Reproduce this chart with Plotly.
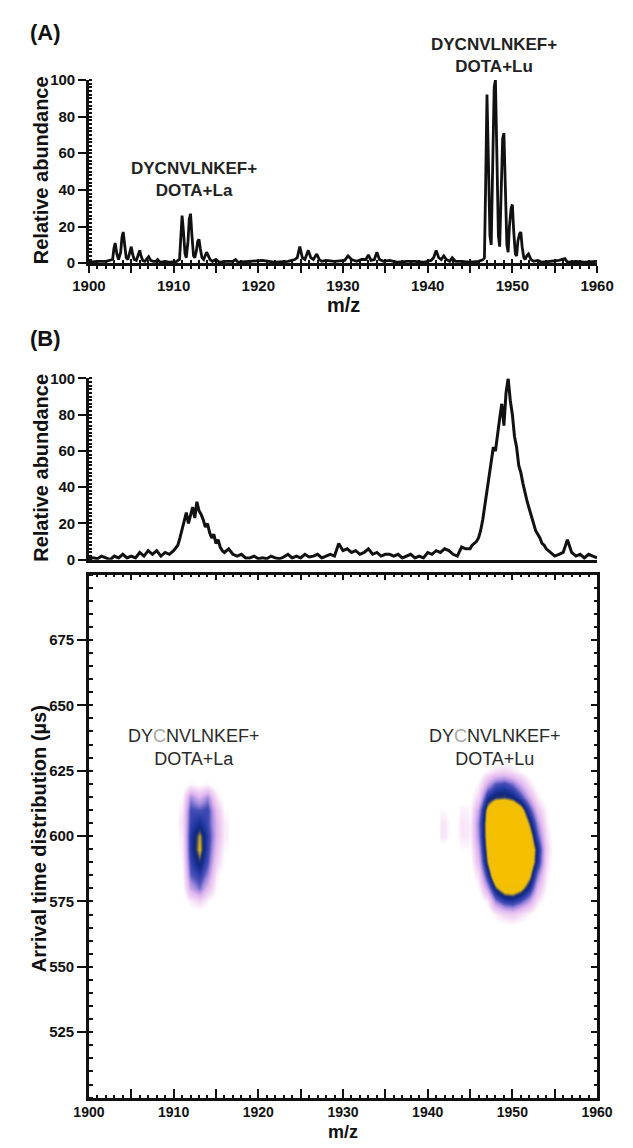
import plotly.graph_objects as go

W, H = 633, 1148

# ---------------- Panel A : mass spectrum (profile points) -------------
mz_a_base1 = [1900, 1901, 1902, 1902.6]
ab_a_base1 = [0.5, 1, 1, 1.5]
mz_a_c1 = [1902.8, 1902.95, 1903.1, 1903.3, 1903.5, 1903.75, 1903.9, 1904.05, 1904.2, 1904.4,
           1904.6, 1904.85, 1905.0, 1905.15, 1905.35, 1905.6, 1905.85, 1906.0, 1906.15, 1906.35,
           1906.6, 1906.85, 1907.05, 1907.3, 1907.6, 1907.9, 1908.1, 1908.4, 1909, 1909.6, 1910.3]
ab_a_c1 = [2, 8, 11, 5, 2, 6, 14, 17, 9, 3,
           2, 6, 9, 5, 2, 1.5, 5, 7, 4, 1.5,
           1, 2.5, 3.5, 1.5, 1, 1, 2, 0.5, 1, 0.5, 0.8]
mz_a_la = [1910.7, 1910.85, 1911.0, 1911.15, 1911.35, 1911.5, 1911.7, 1911.85, 1912.0, 1912.15,
           1912.35, 1912.5, 1912.7, 1912.85, 1913.0, 1913.15, 1913.35, 1913.55, 1913.75, 1913.9,
           1914.1, 1914.3, 1914.6, 1915.0, 1915.4]
ab_a_la = [2, 14, 26, 18, 5, 3, 12, 24, 27, 16,
           4, 3, 7, 12, 13, 8, 3, 2, 4, 6,
           4, 2, 1, 2, 0.5]
mz_a_mid = [1916, 1917, 1917.3, 1917.6, 1919, 1920.5, 1922, 1923.5, 1924.3,
            1924.6, 1924.9, 1925.2, 1925.5, 1925.9, 1926.2, 1926.5, 1926.9, 1927.2, 1927.5, 1928.0,
            1929, 1930.2, 1930.6, 1931, 1931.6, 1932.2,
            1932.7, 1933.0, 1933.3, 1933.7, 1934.0, 1934.3, 1934.8, 1935.5, 1936.5, 1937.5, 1938.5,
            1939.5, 1940.4,
            1940.7, 1941.0, 1941.3, 1941.6, 1941.9, 1942.2, 1942.6, 1942.9, 1943.3, 1944, 1945, 1946,
            1946.6]
ab_a_mid = [1, 1, 2, 0.5, 1, 1.5, 0.5, 1, 2,
            3, 9, 3, 2, 7, 3, 2, 5, 2, 1, 1.5,
            1, 1.5, 4, 2, 1, 2,
            2, 4.5, 1.5, 2, 6, 2, 1, 1.5, 0.5, 1, 1,
            0.5, 1.5,
            3, 7, 3, 2, 4, 2, 1, 3, 1, 1, 0.5, 1,
            2]
mz_a_lu = [1946.7, 1946.85, 1947.0, 1947.15, 1947.35, 1947.5, 1947.65, 1947.85, 1948.0, 1948.15,
           1948.35, 1948.5, 1948.65, 1948.85, 1949.0, 1949.15, 1949.35, 1949.5, 1949.65, 1949.85,
           1950.0, 1950.15, 1950.35, 1950.5, 1950.65, 1950.85, 1951.0, 1951.15, 1951.35, 1951.5,
           1951.7, 1951.9, 1952.2, 1952.5]
ab_a_lu = [3, 45, 92, 60, 15, 10, 50, 96, 100, 70,
           15, 9, 40, 68, 71, 45, 10, 6, 20, 30,
           32, 18, 5, 4, 12, 16, 17, 9, 3, 2,
           4, 5, 2, 1]
mz_a_tail = [1953, 1953.5, 1954.5, 1955.5, 1956.2, 1956.5, 1957.5, 1958.5, 1960]
ab_a_tail = [1.5, 0.5, 1, 1.5, 2.5, 0.5, 1, 0.5, 1]

for a, b in [(mz_a_base1, ab_a_base1), (mz_a_c1, ab_a_c1), (mz_a_la, ab_a_la),
             (mz_a_mid, ab_a_mid), (mz_a_lu, ab_a_lu), (mz_a_tail, ab_a_tail)]:
    assert len(a) == len(b)

# ---------------- Panel B : mobility-selected spectrum --------------------------------------
mz_b1 = [1900, 1900.5, 1901, 1901.5, 1902, 1902.5, 1903, 1903.5, 1904, 1904.5, 1905, 1905.5,
         1906, 1906.5, 1907, 1907.5, 1908, 1908.5, 1909, 1909.5, 1910]
ab_b1 = [0.5, 1, 0.5, 2, 1, 0, 2, 1, 3, 1, 2, 1,
         4, 2, 5, 3, 5, 2, 4, 3, 5]
mz_b2 = [1910.5, 1910.75, 1911, 1911.25, 1911.5, 1911.75, 1912, 1912.25, 1912.5, 1912.75, 1913,
         1913.25, 1913.5, 1913.75, 1914, 1914.25, 1914.5, 1914.75, 1915, 1915.25, 1915.5, 1915.75,
         1916, 1916.5, 1917, 1917.5, 1918, 1918.5, 1919, 1919.5, 1920]
ab_b2 = [8, 12, 17, 22, 26, 20, 25, 29, 23, 32, 27,
         25, 22, 18, 20, 15, 12, 14, 9, 11, 7, 5,
         4, 6, 3, 2, 3, 1, 1, 2, 0.5]
mz_b3 = [1920.5, 1921, 1921.5, 1922, 1922.5, 1923, 1923.5, 1924, 1924.5, 1925, 1925.5, 1926,
         1926.5, 1927, 1927.5, 1928, 1928.5, 1929, 1929.5, 1930, 1930.5, 1931, 1931.5, 1932,
         1932.5, 1933, 1933.5, 1934, 1934.5, 1935, 1935.5, 1936, 1936.5, 1937, 1937.5, 1938,
         1938.5, 1939, 1939.5, 1940, 1940.5, 1941, 1941.5, 1942, 1942.5, 1943, 1943.5, 1944,
         1944.5, 1945]
ab_b3 = [1, 0.5, 2, 1, 0.5, 1.5, 3, 1, 2, 1, 3, 1.5,
         2, 3, 1, 2, 3, 2, 9, 5, 6, 4, 5, 3,
         4, 6, 3, 4, 2, 3, 3, 2, 3, 1, 2, 3,
         1, 2, 1, 4, 3, 5, 4, 6, 5, 3, 2, 7,
         6, 6]
mz_b4 = [1945.25, 1945.5, 1945.75, 1946, 1946.25, 1946.5, 1946.75, 1947, 1947.25, 1947.5,
         1947.75, 1948, 1948.25, 1948.5, 1948.75, 1949, 1949.25, 1949.5, 1949.75, 1950,
         1950.25, 1950.5, 1950.75, 1951, 1951.25, 1951.5, 1951.75, 1952, 1952.25, 1952.5,
         1952.75, 1953, 1953.25, 1953.5, 1953.75, 1954, 1954.25, 1954.5, 1954.75, 1955]
ab_b4 = [8, 9, 10, 12, 16, 22, 30, 38, 45, 55,
         62, 60, 70, 78, 86, 74, 92, 100, 88, 80,
         68, 62, 52, 48, 42, 36, 32, 28, 24, 20,
         16, 14, 12, 9, 8, 6, 5, 4, 3, 2]
mz_b5 = [1955.5, 1956, 1956.5, 1957, 1957.5, 1958, 1958.5, 1959, 1959.5, 1960]
ab_b5 = [3, 4, 11, 4, 2, 3, 1, 3, 2, 1]

mz_b = mz_b1 + mz_b2 + mz_b3 + mz_b4 + mz_b5
ab_b = ab_b1 + ab_b2 + ab_b3 + ab_b4 + ab_b5
assert len(mz_b) == len(ab_b)

# ---------------- Panel B lower : arrival time vs m/z intensity maps -----------------------
la_mz = [1910, 1911, 1912, 1913, 1914, 1915, 1916]
la_atd = [570, 575, 580, 585, 590, 595, 600, 605, 610, 615, 620, 625]
la_z = [
    [0, 0, 0, 0, 0, 0, 0],
    [0, 0, 8, 14, 6, 0, 0],
    [0, 2, 28, 38, 22, 5, 0],
    [0, 4, 40, 48, 34, 8, 0],
    [0, 6, 46, 60, 42, 15, 3],
    [0, 8, 50, 69, 46, 20, 5],
    [0, 10, 50, 67, 48, 24, 8],
    [0, 12, 46, 54, 44, 24, 8],
    [0, 10, 44, 42, 45, 20, 5],
    [0, 6, 34, 24, 34, 10, 0],
    [0, 0, 6, 3, 6, 0, 0],
    [0, 0, 0, 0, 0, 0, 0],
]

lu_mz = [1942, 1943, 1944, 1945, 1946, 1947, 1948, 1949, 1950, 1951, 1952, 1953, 1954, 1955, 1956]
lu_atd = [565, 570, 575, 580, 585, 590, 595, 600, 605, 610, 615, 620, 625, 630]
lu_z = [
    [0, 0, 0, 0, 0, 0, 0, 0, 0, 0, 0, 0, 0, 0, 0],
    [0, 0, 0, 0, 0, 0, 8, 15, 18, 12, 6, 0, 0, 0, 0],
    [0, 0, 0, 0, 0, 8, 35, 48, 50, 42, 28, 10, 0, 0, 0],
    [0, 0, 0, 0, 5, 30, 62, 78, 80, 72, 52, 22, 5, 0, 0],
    [0, 0, 0, 0, 12, 50, 88, 96, 100, 95, 70, 35, 8, 0, 0],
    [0, 0, 0, 3, 22, 66, 96, 100, 100, 100, 82, 52, 12, 0, 0],
    [0, 0, 5, 5, 28, 72, 100, 100, 100, 100, 84, 55, 15, 0, 0],
    [10, 0, 10, 8, 34, 76, 100, 100, 100, 98, 76, 42, 12, 0, 0],
    [10, 0, 10, 8, 36, 76, 100, 100, 100, 92, 62, 32, 8, 0, 0],
    [5, 0, 8, 6, 30, 72, 94, 95, 90, 76, 45, 20, 5, 0, 0],
    [0, 0, 0, 3, 15, 52, 60, 62, 58, 45, 25, 8, 0, 0, 0],
    [0, 0, 0, 0, 6, 28, 42, 45, 38, 25, 10, 0, 0, 0, 0],
    [0, 0, 0, 0, 0, 6, 12, 14, 10, 5, 0, 0, 0, 0, 0],
    [0, 0, 0, 0, 0, 0, 0, 0, 0, 0, 0, 0, 0, 0, 0],
]

mz_ticks = [1900, 1905, 1910, 1915, 1920, 1925, 1930, 1935, 1940, 1945, 1950, 1955, 1960]
mz_ticktext = ["1900", "", "1910", "", "1920", "", "1930", "", "1940", "", "1950", "", "1960"]
ab_ticks = [0, 20, 40, 60, 80, 100]
atd_ticks = [525, 550, 575, 600, 625, 650, 675]

label_la = "DYCNVLNKEF+<br>DOTA+La"
label_lu = "DYCNVLNKEF+<br>DOTA+Lu"
map_label_la = "DY<span style='color:#a8a8a8'>C</span>NVLNKEF+<br>DOTA+La"
map_label_lu = "DY<span style='color:#a8a8a8'>C</span>NVLNKEF+<br>DOTA+Lu"

# ---------------- layout geometry ------------------------------------------------------------
FONT = "Liberation Sans, Arial, Helvetica, sans-serif"
XD = [76 / W, 613 / W]
YD_A = [1 - 258 / H, 1 - 72 / H]
YD_B = [1 - 559 / H, 1 - 375 / H]
YD_C = [1 - 1105 / H, 1 - 574 / H]

colorscale = [
    [0.0, "#ffffff"], [0.04, "#ffffff"], [0.12, "#f5dcf5"], [0.24, "#e0b6ef"],
    [0.34, "#a08ade"], [0.42, "#4a50b8"], [0.50, "#2238a4"], [0.57, "#10287e"],
    [0.61, "#2a3474"], [0.655, "#a08e36"], [0.69, "#f3bf05"], [1.0, "#f5c000"],
]

INK = "#111111"
fig = go.Figure()

fig.add_trace(go.Scatter(x=mz_a_base1 + mz_a_c1 + mz_a_la + mz_a_mid,
                         y=ab_a_base1 + ab_a_c1 + ab_a_la + ab_a_mid,
                         mode="lines", line=dict(color=INK, width=2.8),
                         xaxis="x", yaxis="y", showlegend=False, hoverinfo="skip"))
fig.add_trace(go.Scatter(x=mz_a_mid[-1:] + mz_a_lu + mz_a_tail,
                         y=ab_a_mid[-1:] + ab_a_lu + ab_a_tail,
                         mode="lines", line=dict(color=INK, width=2.8),
                         xaxis="x5", yaxis="y", showlegend=False, hoverinfo="skip"))
fig.add_trace(go.Scatter(x=mz_b, y=ab_b, mode="lines", line=dict(color=INK, width=3),
                         xaxis="x2", yaxis="y2", showlegend=False, hoverinfo="skip"))
fig.add_trace(go.Heatmap(x=la_mz, y=la_atd, z=la_z, coloraxis="coloraxis", zsmooth="best",
                         xaxis="x3", yaxis="y3", hoverinfo="skip"))
fig.add_trace(go.Heatmap(x=lu_mz, y=lu_atd, z=lu_z, coloraxis="coloraxis", zsmooth="best",
                         xaxis="x4", yaxis="y4", hoverinfo="skip"))

tickfont = dict(family=FONT, size=15, color=INK, weight="bold")
tickfont_map_x = dict(family=FONT, size=14, color=INK, weight="bold")
axline = dict(showline=True, linecolor=INK, linewidth=2.5, showgrid=False, zeroline=False)
minor_x_in = dict(dtick=1, ticks="inside", ticklen=3, tickwidth=1.5, tickcolor=INK)

fig.update_layout(
    width=W, height=H,
    margin=dict(l=0, r=0, t=0, b=0),
    paper_bgcolor="white", plot_bgcolor="rgba(0,0,0,0)",
    coloraxis=dict(colorscale=colorscale, cmin=0, cmax=100, showscale=False),
    showlegend=False,
    # Panel A
    xaxis=dict(domain=XD, anchor="y", range=[1900, 1960], tickmode="array", tickvals=mz_ticks,
               ticktext=mz_ticktext, ticks="outside", ticklen=7, tickwidth=2, tickcolor=INK,
               tickfont=tickfont,
               minor=dict(dtick=1, ticks="outside", ticklen=3, tickwidth=1.5, tickcolor=INK),
               **axline),
    xaxis5=dict(overlaying="x", anchor="y", side="bottom", range=[1900, 1960], tickmode="array",
                tickvals=mz_ticks, showticklabels=False, ticks="inside", ticklen=4, tickwidth=2,
                tickcolor=INK, minor=minor_x_in,
                showline=False, showgrid=False, zeroline=False),
    yaxis=dict(domain=YD_A, anchor="x", range=[0, 100], tickmode="array", tickvals=ab_ticks,
               ticks="outside", ticklen=8, tickwidth=2, tickcolor=INK, tickfont=tickfont,
               minor=dict(dtick=2, ticks="inside", ticklen=3, tickwidth=1.5, tickcolor=INK),
               **axline),
    # Panel B top
    xaxis2=dict(domain=XD, anchor="y2", range=[1900, 1960], ticks="", showticklabels=False,
                **axline),
    yaxis2=dict(domain=YD_B, anchor="x2", range=[0, 100], tickmode="array", tickvals=ab_ticks,
                ticks="outside", ticklen=8, tickwidth=2, tickcolor=INK, tickfont=tickfont,
                minor=dict(dtick=2, ticks="inside", ticklen=3, tickwidth=1.5, tickcolor=INK),
                **axline),
    # Panel B map
    xaxis3=dict(domain=XD, anchor="y3", range=[1900, 1960], tickmode="array", tickvals=mz_ticks,
                ticktext=mz_ticktext, ticks="inside", ticklen=9, tickwidth=2, tickcolor=INK,
                tickfont=tickfont_map_x, ticklabelstandoff=0, minor=minor_x_in, **axline),
    xaxis4=dict(overlaying="x3", anchor="y4", side="top", range=[1900, 1960], tickmode="array",
                tickvals=mz_ticks, showticklabels=False, ticks="inside", ticklen=6, tickwidth=2,
                tickcolor=INK, minor=minor_x_in, **axline),
    yaxis3=dict(domain=YD_C, anchor="x3", range=[500, 700], tickmode="array", tickvals=atd_ticks,
                ticks="outside", ticklen=9, tickwidth=2, tickcolor=INK, tickfont=tickfont,
                minor=dict(dtick=5, ticks="inside", ticklen=4, tickwidth=1.5, tickcolor=INK),
                **axline),
    yaxis4=dict(overlaying="y3", anchor="x4", side="right", range=[500, 700], tickmode="array",
                tickvals=atd_ticks, showticklabels=False, ticks="inside", ticklen=6, tickwidth=2,
                tickcolor=INK,
                minor=dict(dtick=5, ticks="inside", ticklen=3, tickwidth=1.5, tickcolor=INK),
                **axline),
)

def ann_paper(text, x, y, size, angle=0, weight="bold", color=INK, xanchor="center"):
    fig.add_annotation(text=text, x=x / W, y=1 - y / H, xref="paper", yref="paper",
                       showarrow=False, textangle=angle, xanchor=xanchor, yanchor="middle",
                       align="center",
                       font=dict(family=FONT, size=size, color=color, weight=weight))

ann_paper("(A)", 12, 24, 22, xanchor="left")
ann_paper("(B)", 12, 334, 22, xanchor="left")
ann_paper("Relative abundance", 25, 164, 20, angle=-90)
ann_paper("Relative abundance", 25, 466, 20, angle=-90)
ann_paper("Arrival time distribution (µs)", 23, 842, 20, angle=-90)
ann_paper("m/z", 345, 300, 20)
fig.add_annotation(text="m/z", x=345 / W, y=0, xref="paper", yref="paper", showarrow=False,
                   xanchor="center", yanchor="bottom", yshift=-4,
                   font=dict(family=FONT, size=18, color=INK, weight="bold"))
ann_paper(label_lu, 504, 47, 17, color="#222222")

fig.add_annotation(text=label_la, x=1912.4, y=45.5, xref="x", yref="y", showarrow=False,
                   align="center", font=dict(family=FONT, size=17, color="#222222", weight="bold"))
fig.add_annotation(text=map_label_la, x=1912.4, y=634, xref="x3", yref="y3", showarrow=False,
                   align="center", font=dict(family=FONT, size=18, color="#2a2a2a"))
fig.add_annotation(text=map_label_lu, x=1947.9, y=634, xref="x3", yref="y3", showarrow=False,
                   align="center", font=dict(family=FONT, size=18, color="#2a2a2a"))

fig.write_html("out.html")
